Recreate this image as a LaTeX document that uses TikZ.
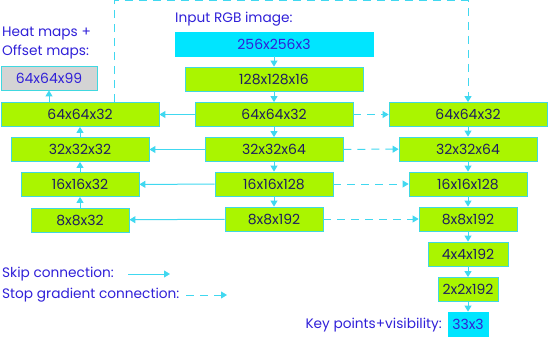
\documentclass[tikz,border=0pt]{standalone}
\usepackage{fontspec}
\setmainfont{Poppins}
\usetikzlibrary{arrows.meta,positioning,calc}
\definecolor{limefill}{HTML}{AAF500}
\definecolor{boxedge}{HTML}{40D8E0}
\definecolor{arrowcyan}{HTML}{40D8F0}
\definecolor{inputcyan}{HTML}{00E5FF}
\definecolor{greyfill}{HTML}{D4D4D4}
\definecolor{navytext}{HTML}{1E1E60}
\definecolor{labelblue}{HTML}{3020D8}
\tikzset{
  layer/.style={draw=boxedge, line width=0.8pt, fill=limefill, text=navytext,
    minimum height=24pt, inner sep=0pt, font=\fontsize{14}{14}\selectfont},
  inputbox/.style={layer, fill=inputcyan, draw=inputcyan, text=labelblue},
  headbox/.style={layer, fill=greyfill, text=labelblue},
  caption/.style={text=labelblue, inner sep=0pt, font=\fontsize{13.7}{19}\selectfont},
  skip/.style={arrowcyan, line width=1pt, -{Triangle[length=6pt,width=7pt]}},
  stopgrad/.style={skip, dash pattern=on 8pt off 6pt}
}
\begin{document}
\begin{tikzpicture}[x=1pt, y=-1pt]
  \useasboundingbox (0,0) rectangle (549,337);
  % encoder column
  \node[inputbox, minimum width=198pt] (in) at (274,44) {256x256x3};
  \node[layer, minimum width=178pt] (c1) at (274,79) {128x128x16};
  \node[layer, minimum width=158pt] (c2) at (274,114.5) {64x64x32};
  \node[layer, minimum width=138pt] (c3) at (274,149.5) {32x32x64};
  \node[layer, minimum width=118pt] (c4) at (274,184) {16x16x128};
  \node[layer, minimum width=98pt] (c5) at (274,219) {8x8x192};
  % heatmap column
  \node[headbox, minimum width=96pt] (l0) at (49,78) {64x64x99};
  \node[layer, minimum width=158pt] (l1) at (80,114.5) {64x64x32};
  \node[layer, minimum width=138pt] (l2) at (80,149.5) {32x32x32};
  \node[layer, minimum width=118pt] (l3) at (80,184.5) {16x16x32};
  \node[layer, minimum width=98pt] (l4) at (80,220) {8x8x32};
  % regression column
  \node[layer, minimum width=158pt] (r1) at (468,114.5) {64x64x32};
  \node[layer, minimum width=138pt] (r2) at (468,149) {32x32x64};
  \node[layer, minimum width=118pt] (r3) at (468,184) {16x16x128};
  \node[layer, minimum width=98pt] (r4) at (468,219) {8x8x192};
  \node[layer, minimum width=80pt] (r5) at (468,254) {4x4x192};
  \node[layer, minimum width=60pt] (r6) at (468,289.5) {2x2x192};
  \node[inputbox, minimum width=40pt, minimum height=25pt] (out) at (468,324.5) {33x3};
  % captions
  \node[caption, anchor=west] (incap) at (175,19) {Input RGB image:};
  \node[caption, anchor=west, align=left] (headcap) at (2,43) {Heat maps +\\Offset maps:};
  \node[caption, anchor=east] (outcap) at (442,325) {Key points+visibility:};
  % down the encoder
  \foreach \a/\b in {in/c1, c1/c2, c2/c3, c3/c4, c4/c5}
    \draw[skip] (\a) -- (\b);
  % up the heatmap column
  \foreach \a/\b in {l4/l3, l3/l2, l2/l1}
    \draw[skip] (\a) -- (\b);
  \draw[skip] (l1.north -| l0) -- (l0);
  % down the regression column
  \foreach \a/\b in {r1/r2, r2/r3, r3/r4, r4/r5, r5/r6, r6/out}
    \draw[skip] (\a) -- (\b);
  % skip and stop gradient links
  \foreach \i in {1,...,4} {
    \pgfmathtruncatemacro{\j}{\i+1}
    \draw[skip] (c\j) -- (l\i);
    \draw[stopgrad] (c\j) -- (r\i);
  }
  \coordinate (top) at (114,1);
  \draw[stopgrad] (l1.north -| top) |- (top) -| (r1.north);
  % legend
  \node[caption, anchor=west] (skipleg) at (2,274) {Skip connection:};
  \node[caption, anchor=west] (stopleg) at (2,295) {Stop gradient connection:};
  \coordinate (skipa) at (128,274);
  \coordinate (skipb) at (170,274);
  \coordinate (stopa) at (186,295);
  \coordinate (stopb) at (227,295);
  \draw[skip] (skipa) -- (skipb);
  \draw[stopgrad] (stopa) -- (stopb);
\end{tikzpicture}
\end{document}
